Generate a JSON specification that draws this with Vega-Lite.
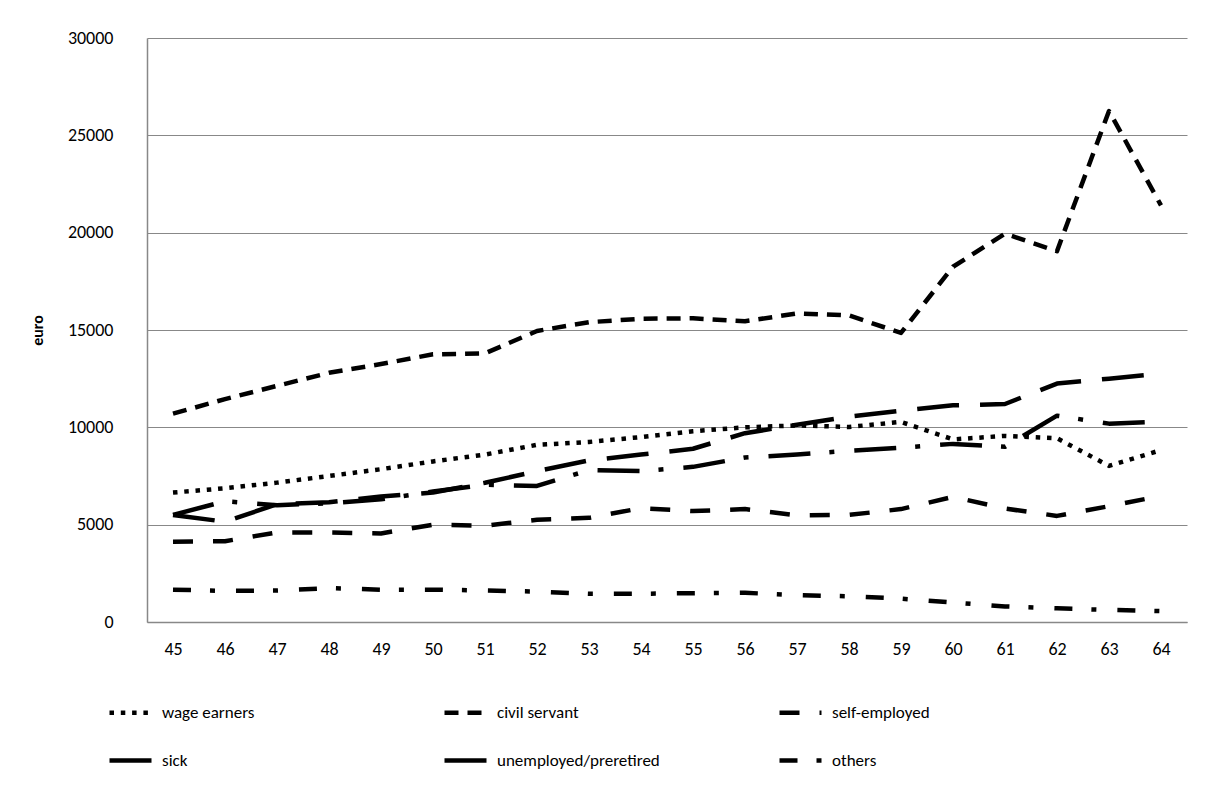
{
  "$schema": "https://vega.github.io/schema/vega-lite/v6.json",
  "width": 1040,
  "height": 584,
  "autosize": {"type": "none"},
  "padding": {"left": 147, "top": 38, "right": 29, "bottom": 170},
  "background": "white",
  "config": {
    "font": "Carlito, Lato, sans-serif",
    "view": {"stroke": null}
  },
  "data": {
    "values": [
      {"age": 45, "group": "wage earners", "value": 6650},
      {"age": 46, "group": "wage earners", "value": 6870},
      {"age": 47, "group": "wage earners", "value": 7160},
      {"age": 48, "group": "wage earners", "value": 7500},
      {"age": 49, "group": "wage earners", "value": 7850},
      {"age": 50, "group": "wage earners", "value": 8250},
      {"age": 51, "group": "wage earners", "value": 8600},
      {"age": 52, "group": "wage earners", "value": 9100},
      {"age": 53, "group": "wage earners", "value": 9250},
      {"age": 54, "group": "wage earners", "value": 9500},
      {"age": 55, "group": "wage earners", "value": 9800},
      {"age": 56, "group": "wage earners", "value": 10000},
      {"age": 57, "group": "wage earners", "value": 10100},
      {"age": 58, "group": "wage earners", "value": 10020},
      {"age": 59, "group": "wage earners", "value": 10280},
      {"age": 60, "group": "wage earners", "value": 9380},
      {"age": 61, "group": "wage earners", "value": 9560},
      {"age": 62, "group": "wage earners", "value": 9440},
      {"age": 63, "group": "wage earners", "value": 8020},
      {"age": 64, "group": "wage earners", "value": 8830},
      {"age": 45, "group": "civil servant", "value": 10700},
      {"age": 46, "group": "civil servant", "value": 11450},
      {"age": 47, "group": "civil servant", "value": 12130},
      {"age": 48, "group": "civil servant", "value": 12800},
      {"age": 49, "group": "civil servant", "value": 13250},
      {"age": 50, "group": "civil servant", "value": 13750},
      {"age": 51, "group": "civil servant", "value": 13800},
      {"age": 52, "group": "civil servant", "value": 14950},
      {"age": 53, "group": "civil servant", "value": 15400},
      {"age": 54, "group": "civil servant", "value": 15580},
      {"age": 55, "group": "civil servant", "value": 15600},
      {"age": 56, "group": "civil servant", "value": 15450},
      {"age": 57, "group": "civil servant", "value": 15850},
      {"age": 58, "group": "civil servant", "value": 15750},
      {"age": 59, "group": "civil servant", "value": 14850},
      {"age": 60, "group": "civil servant", "value": 18250},
      {"age": 61, "group": "civil servant", "value": 19950},
      {"age": 62, "group": "civil servant", "value": 19050},
      {"age": 63, "group": "civil servant", "value": 26250},
      {"age": 64, "group": "civil servant", "value": 21400},
      {"age": 45, "group": "self-employed", "value": 4120},
      {"age": 46, "group": "self-employed", "value": 4150},
      {"age": 47, "group": "self-employed", "value": 4600},
      {"age": 48, "group": "self-employed", "value": 4600},
      {"age": 49, "group": "self-employed", "value": 4550},
      {"age": 50, "group": "self-employed", "value": 5000},
      {"age": 51, "group": "self-employed", "value": 4950},
      {"age": 52, "group": "self-employed", "value": 5250},
      {"age": 53, "group": "self-employed", "value": 5350},
      {"age": 54, "group": "self-employed", "value": 5850},
      {"age": 55, "group": "self-employed", "value": 5700},
      {"age": 56, "group": "self-employed", "value": 5800},
      {"age": 57, "group": "self-employed", "value": 5480},
      {"age": 58, "group": "self-employed", "value": 5500},
      {"age": 59, "group": "self-employed", "value": 5800},
      {"age": 60, "group": "self-employed", "value": 6430},
      {"age": 61, "group": "self-employed", "value": 5830},
      {"age": 62, "group": "self-employed", "value": 5450},
      {"age": 63, "group": "self-employed", "value": 5950},
      {"age": 64, "group": "self-employed", "value": 6480},
      {"age": 45, "group": "sick", "value": 5500},
      {"age": 46, "group": "sick", "value": 6200},
      {"age": 47, "group": "sick", "value": 6000},
      {"age": 48, "group": "sick", "value": 6100},
      {"age": 49, "group": "sick", "value": 6300},
      {"age": 50, "group": "sick", "value": 6700},
      {"age": 51, "group": "sick", "value": 7050},
      {"age": 52, "group": "sick", "value": 6990},
      {"age": 53, "group": "sick", "value": 7800},
      {"age": 54, "group": "sick", "value": 7750},
      {"age": 55, "group": "sick", "value": 7970},
      {"age": 56, "group": "sick", "value": 8450},
      {"age": 57, "group": "sick", "value": 8600},
      {"age": 58, "group": "sick", "value": 8800},
      {"age": 59, "group": "sick", "value": 8950},
      {"age": 60, "group": "sick", "value": 9150},
      {"age": 61, "group": "sick", "value": 9000},
      {"age": 62, "group": "sick", "value": 10600},
      {"age": 63, "group": "sick", "value": 10190},
      {"age": 64, "group": "sick", "value": 10290},
      {"age": 45, "group": "unemployed/preretired", "value": 5500},
      {"age": 46, "group": "unemployed/preretired", "value": 5150},
      {"age": 47, "group": "unemployed/preretired", "value": 6050},
      {"age": 48, "group": "unemployed/preretired", "value": 6150},
      {"age": 49, "group": "unemployed/preretired", "value": 6450},
      {"age": 50, "group": "unemployed/preretired", "value": 6650},
      {"age": 51, "group": "unemployed/preretired", "value": 7150},
      {"age": 52, "group": "unemployed/preretired", "value": 7750},
      {"age": 53, "group": "unemployed/preretired", "value": 8300},
      {"age": 54, "group": "unemployed/preretired", "value": 8600},
      {"age": 55, "group": "unemployed/preretired", "value": 8900},
      {"age": 56, "group": "unemployed/preretired", "value": 9700},
      {"age": 57, "group": "unemployed/preretired", "value": 10130},
      {"age": 58, "group": "unemployed/preretired", "value": 10550},
      {"age": 59, "group": "unemployed/preretired", "value": 10850},
      {"age": 60, "group": "unemployed/preretired", "value": 11130},
      {"age": 61, "group": "unemployed/preretired", "value": 11200},
      {"age": 62, "group": "unemployed/preretired", "value": 12250},
      {"age": 63, "group": "unemployed/preretired", "value": 12500},
      {"age": 64, "group": "unemployed/preretired", "value": 12760},
      {"age": 45, "group": "others", "value": 1660},
      {"age": 46, "group": "others", "value": 1600},
      {"age": 47, "group": "others", "value": 1620},
      {"age": 48, "group": "others", "value": 1740},
      {"age": 49, "group": "others", "value": 1660},
      {"age": 50, "group": "others", "value": 1660},
      {"age": 51, "group": "others", "value": 1620},
      {"age": 52, "group": "others", "value": 1560},
      {"age": 53, "group": "others", "value": 1450},
      {"age": 54, "group": "others", "value": 1450},
      {"age": 55, "group": "others", "value": 1480},
      {"age": 56, "group": "others", "value": 1500},
      {"age": 57, "group": "others", "value": 1380},
      {"age": 58, "group": "others", "value": 1320},
      {"age": 59, "group": "others", "value": 1200},
      {"age": 60, "group": "others", "value": 1000},
      {"age": 61, "group": "others", "value": 800},
      {"age": 62, "group": "others", "value": 700},
      {"age": 63, "group": "others", "value": 620},
      {"age": 64, "group": "others", "value": 560}
    ]
  },
  "mark": {"type": "line", "strokeWidth": 4.5, "strokeCap": "butt", "strokeJoin": "round", "color": "black"},
  "encoding": {
    "x": {
      "field": "age",
      "type": "ordinal",
      "scale": {"type": "point", "padding": 0.5},
      "axis": {
        "title": null,
        "labelAngle": 0,
        "labelFontSize": 18,
        "labelColor": "black",
        "labelPadding": 18,
        "ticks": false,
        "domainColor": "#888888",
        "domainWidth": 1.5,
        "grid": false
      }
    },
    "y": {
      "field": "value",
      "type": "quantitative",
      "scale": {"domain": [0, 30000], "nice": false},
      "axis": {
        "title": "euro",
        "titleFontSize": 16,
        "titleFontWeight": "bold",
        "titleColor": "black",
        "titlePadding": 22,
        "values": [0, 5000, 10000, 15000, 20000, 25000, 30000],
        "format": "d",
        "labelFontSize": 18,
        "labelColor": "black",
        "labelPadding": 34,
        "ticks": false,
        "domainColor": "#888888",
        "domainWidth": 1.5,
        "grid": true,
        "gridColor": "#888888",
        "gridWidth": 1
      }
    },
    "strokeDash": {
      "field": "group",
      "type": "nominal",
      "scale": {
        "domain": ["wage earners", "civil servant", "self-employed", "sick", "unemployed/preretired", "others"],
        "range": [[4.5, 6.8], [14, 9], [20, 20], [42, 19, 5, 20], [42, 21], [18, 19, 5, 21]]
      },
      "legend": {
        "title": null,
        "orient": "none",
        "legendX": -40,
        "legendY": 651,
        "direction": "horizontal",
        "columns": 3,
        "gridAlign": "all",
        "columnPadding": 110,
        "rowPadding": 15,
        "symbolType": "stroke",
        "symbolSize": 1764,
        "symbolStrokeWidth": 4.5,
        "symbolStrokeColor": "black",
        "labelFontSize": 17,
        "labelLimit": 300,
        "labelColor": "black",
        "labelOffset": 8
      }
    }
  }
}
